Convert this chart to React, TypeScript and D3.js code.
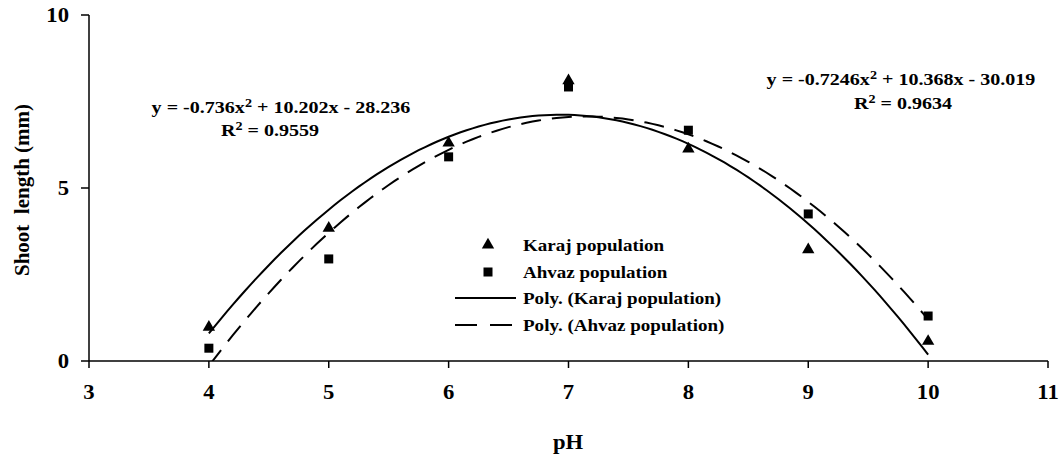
import React from "react";
import * as d3 from "d3";

// Measured shoot length (mm) per pH for each population
const phLevels = [4, 5, 6, 7, 8, 9, 10];
const karajValues = [0.98, 3.84, 6.3, 8.1, 6.13, 3.22, 0.57];
const ahvazValues = [0.37, 2.95, 5.9, 7.92, 6.67, 4.25, 1.3];

// Second-order polynomial trendline coefficients [a, b, c] for y = a x^2 + b x + c
const karajFit = [-0.736, 10.202, -28.236];
const ahvazFit = [-0.7246, 10.368, -30.019];
const karajR2 = "0.9559";
const ahvazR2 = "0.9634";

const xTicks = [3, 4, 5, 6, 7, 8, 9, 10, 11];
const yTicks = [0, 5, 10];

const legendLabels = [
  "Karaj population",
  "Ahvaz population",
  "Poly. (Karaj population)",
  "Poly. (Ahvaz population)",
];

const W = 1062;
const H = 457;
const FONT = "'Liberation Serif', 'Times New Roman', serif";
const textStyle = { fontFamily: FONT, fontWeight: 700 as const, fill: "#000" };

// Text drawn with a slight horizontal stretch, anchored at (x, y)
function WideText({
  x,
  y,
  size,
  anchor = "start",
  sx = 1.12,
  children,
}: {
  x: number;
  y: number;
  size: number;
  anchor?: "start" | "middle" | "end";
  sx?: number;
  children: React.ReactNode;
}) {
  return (
    <text
      transform={`translate(${x},${y}) scale(${sx},1)`}
      dy="0.35em"
      textAnchor={anchor}
      fontSize={size}
      style={textStyle}
    >
      {children}
    </text>
  );
}

export default function App() {
  const x = d3.scaleLinear().domain([3, 11]).range([89, 1048]);
  const y = d3.scaleLinear().domain([0, 10]).range([361, 15]);

  const poly = (c: number[]) => (v: number) => c[0] * v * v + c[1] * v + c[2];
  const samples = d3.range(4, 10.0001, 0.05);
  const line = d3
    .line<[number, number]>()
    .x((d) => x(d[0]))
    .y((d) => y(d[1]));
  const karajPath = line(samples.map((v) => [v, poly(karajFit)(v)]))!;
  const ahvazPath = line(samples.map((v) => [v, poly(ahvazFit)(v)]))!;

  const tri = d3.symbol().type(d3.symbolTriangle).size(66)()!;
  const sq = (cx: number, cy: number, key: string) => (
    <rect key={key} x={cx - 4.5} y={cy - 4.5} width={9} height={9} fill="#000" />
  );

  const legendX = 455;
  const legendRows = [245, 272, 298, 325];

  return (
    <svg
      width={W}
      height={H}
      style={{ position: "absolute", left: 0, top: 0, background: "#fff" }}
    >
      <defs>
        <clipPath id="plotArea">
          <rect x={89} y={15} width={959} height={346} />
        </clipPath>
      </defs>

      {/* axes */}
      <line x1={89} x2={89} y1={15} y2={361} stroke="#000" strokeWidth={1.5} />
      <line x1={89} x2={1048} y1={361} y2={361} stroke="#000" strokeWidth={1.5} />
      {yTicks.map((t) => (
        <g key={"y" + t}>
          <line x1={81} x2={89} y1={y(t)} y2={y(t)} stroke="#000" strokeWidth={1.5} />
          <WideText x={69} y={y(t)} size={21} anchor="end" sx={1.08}>
            {t}
          </WideText>
        </g>
      ))}
      {xTicks.map((t) => (
        <g key={"x" + t}>
          <line x1={x(t)} x2={x(t)} y1={361} y2={368} stroke="#000" strokeWidth={1.5} />
          <WideText x={x(t)} y={392} size={21} anchor="middle" sx={1.08}>
            {t}
          </WideText>
        </g>
      ))}

      <WideText x={568} y={442} size={21} anchor="middle" sx={1.08}>
        pH
      </WideText>
      <text
        transform={`translate(22,190) rotate(-90)`}
        dy="0.35em"
        textAnchor="middle"
        fontSize={21}
        style={{ ...textStyle, whiteSpace: "pre" }}
      >
        {"Shoot  length (mm)"}
      </text>

      {/* trendlines */}
      <g clipPath="url(#plotArea)">
        <path d={karajPath} fill="none" stroke="#000" strokeWidth={2} />
        <path
          d={ahvazPath}
          fill="none"
          stroke="#000"
          strokeWidth={2}
          strokeDasharray="20 11"
        />
      </g>

      {/* observed values */}
      {phLevels.map((p, i) => (
        <path
          key={"k" + p}
          d={tri}
          transform={`translate(${x(p)},${y(karajValues[i])})`}
          fill="#000"
        />
      ))}
      {phLevels.map((p, i) => sq(x(p), y(ahvazValues[i]), "a" + p))}

      {/* trendline equations */}
      <WideText x={281} y={107} size={17} anchor="middle" sx={1.18}>
        y = -0.736x<tspan dy="-6" fontSize={12}>2</tspan>
        <tspan dy="6"> + 10.202x - 28.236</tspan>
      </WideText>
      <WideText x={270} y={130} size={17} anchor="middle" sx={1.18}>
        R<tspan dy="-6" fontSize={12}>2</tspan>
        <tspan dy="6"> = {karajR2}</tspan>
      </WideText>
      <WideText x={901} y={79} size={17} anchor="middle" sx={1.18}>
        y = -0.7246x<tspan dy="-6" fontSize={12}>2</tspan>
        <tspan dy="6"> + 10.368x - 30.019</tspan>
      </WideText>
      <WideText x={903} y={103} size={17} anchor="middle" sx={1.18}>
        R<tspan dy="-6" fontSize={12}>2</tspan>
        <tspan dy="6"> = {ahvazR2}</tspan>
      </WideText>

      {/* legend */}
      <path d={tri} transform={`translate(488,${legendRows[0]})`} fill="#000" />
      {sq(488, legendRows[1], "lg-sq")}
      <line
        x1={legendX}
        x2={legendX + 61}
        y1={legendRows[2]}
        y2={legendRows[2]}
        stroke="#000"
        strokeWidth={2}
      />
      <line
        x1={legendX}
        x2={legendX + 61}
        y1={legendRows[3]}
        y2={legendRows[3]}
        stroke="#000"
        strokeWidth={2}
        strokeDasharray="22 13"
      />
      {legendLabels.map((l, i) => (
        <WideText key={l} x={523} y={legendRows[i]} size={17}>
          {l}
        </WideText>
      ))}
    </svg>
  );
}
